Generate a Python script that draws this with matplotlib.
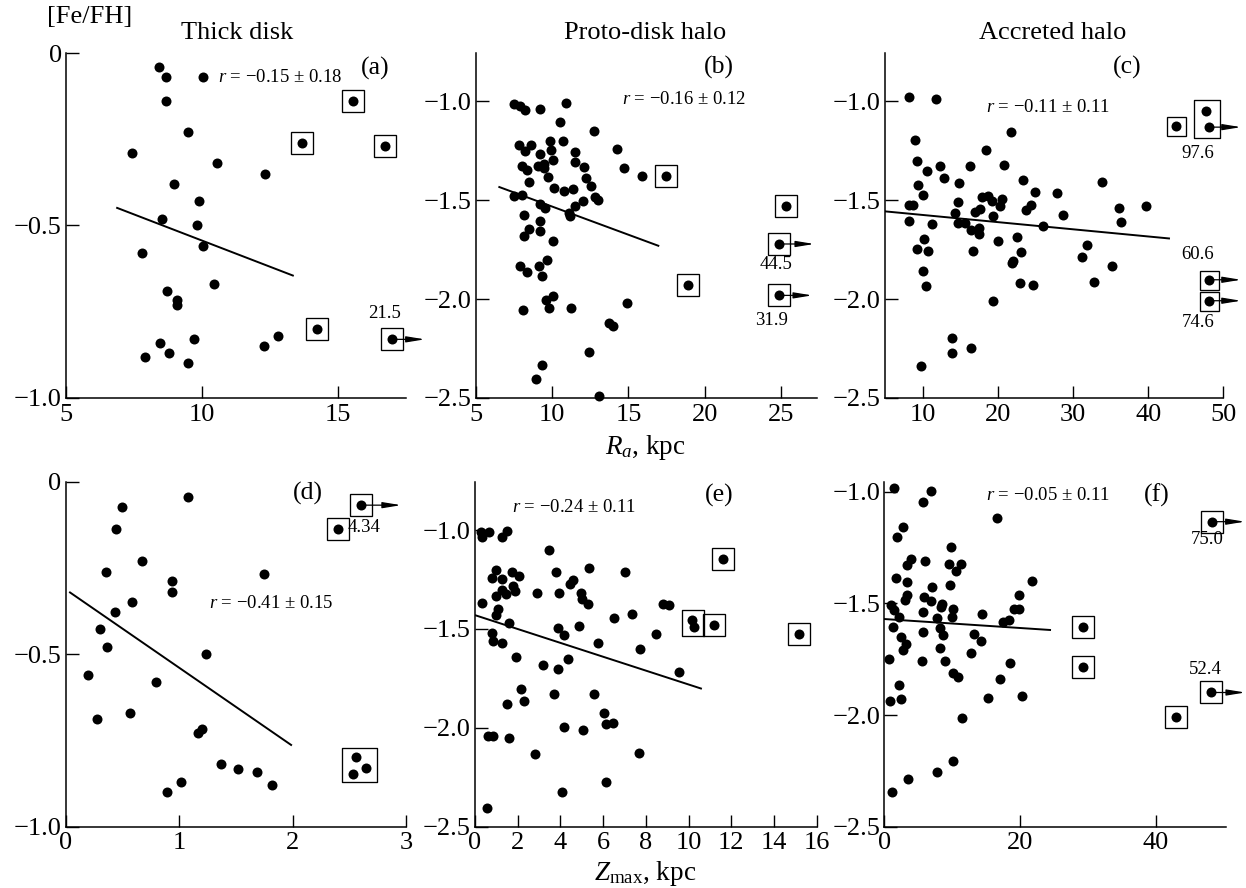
import numpy as np
import matplotlib.pyplot as plt
from matplotlib.path import Path
from matplotlib.ticker import FixedLocator, FuncFormatter

plt.rcParams['font.family'] = ['Liberation Serif', 'DejaVu Serif']
plt.rcParams['mathtext.fontset'] = 'custom'
plt.rcParams['mathtext.rm'] = 'Liberation Serif'
plt.rcParams['mathtext.it'] = 'Liberation Serif:italic'

W, H = 1246, 888

# ---------------- (a) Thick disk, R_a ----------------
xa = [8.41, 8.68, 10.02, 8.68, 9.49, 7.41, 10.56, 12.33, 8.98, 9.89, 8.52, 9.82, 10.05,
      7.79, 10.44, 8.71, 9.07, 9.07, 8.44, 9.72, 7.89, 8.78, 9.50, 12.29, 12.79]
ya = [-0.04, -0.07, -0.07, -0.14, -0.23, -0.29, -0.32, -0.35, -0.38, -0.43, -0.48, -0.50, -0.56,
      -0.58, -0.67, -0.69, -0.715, -0.73, -0.84, -0.83, -0.88, -0.87, -0.90, -0.85, -0.82]
xa_box = [15.55, 13.66, 16.74, 14.21, 16.98]
ya_box = [-0.14, -0.26, -0.27, -0.80, -0.83]
fit_a = ([6.88, 13.34], [-0.449, -0.645])

# ---------------- (b) Proto-disk halo, R_a ----------------
xb = [7.47, 7.89, 8.23, 9.22, 10.92, 10.53, 12.74, 7.84, 8.61, 8.23, 9.85, 10.73, 9.20, 9.92,
      11.51, 14.25, 7.99, 8.34, 9.07, 9.48, 9.44, 10.03, 11.51, 12.06, 14.73, 15.89, 8.50, 9.70,
      12.21, 12.52, 10.14, 10.79, 11.38, 7.47, 8.02, 12.83, 12.98, 9.22, 9.55, 11.51, 12.04,
      11.12, 11.19, 8.17, 9.20, 8.50, 9.22, 8.17, 10.03, 9.63, 7.89, 9.15, 8.34, 9.31, 10.03,
      9.59, 8.06, 9.81, 11.25, 14.88, 13.70, 13.96, 12.43, 9.35, 8.93, 13.09]
yb = [-1.012, -1.025, -1.042, -1.039, -1.008, -1.106, -1.152, -1.219, -1.219, -1.253, -1.202,
      -1.199, -1.265, -1.248, -1.258, -1.241, -1.329, -1.349, -1.325, -1.315, -1.337, -1.298,
      -1.308, -1.332, -1.339, -1.379, -1.406, -1.383, -1.388, -1.426, -1.437, -1.452, -1.443,
      -1.480, -1.472, -1.484, -1.501, -1.519, -1.541, -1.528, -1.502, -1.565, -1.581, -1.576,
      -1.607, -1.646, -1.657, -1.683, -1.708, -1.804, -1.834, -1.834, -1.865, -1.882, -1.986,
      -2.003, -2.053, -2.047, -2.045, -2.020, -2.121, -2.134, -2.269, -2.332, -2.402, -2.492]
xb_box = [17.46, 18.92, 25.33, 24.89, 24.89]
yb_box = [-1.379, -1.927, -1.531, -1.721, -1.981]
fit_b = ([6.53, 16.96], [-1.433, -1.730])

# ---------------- (c) Accreted halo, R_a ----------------
xc = [8.09, 11.64, 8.89, 9.11, 10.53, 12.27, 12.80, 9.24, 10.00, 14.76, 16.27, 18.31, 21.69,
      20.71, 23.33, 24.89, 27.87, 8.09, 8.67, 8.09, 11.11, 14.58, 14.22, 14.58, 15.56, 16.36,
      17.47, 17.47, 16.89, 17.56, 17.87, 18.58, 19.20, 20.53, 20.22, 19.33, 20.00, 23.64, 24.36,
      25.91, 22.53, 10.04, 9.11, 10.67, 16.62, 23.02, 21.78, 22.00, 9.91, 10.40, 22.84, 24.62,
      19.24, 13.87, 13.87, 16.31, 9.69, 28.67, 31.11, 31.78, 32.80, 33.78, 35.11, 36.04, 36.36,
      39.69]
yc = [-0.978, -0.988, -1.197, -1.300, -1.354, -1.325, -1.388, -1.421, -1.474, -1.413, -1.329,
      -1.246, -1.157, -1.324, -1.396, -1.458, -1.464, -1.524, -1.524, -1.607, -1.620, -1.511,
      -1.565, -1.615, -1.615, -1.649, -1.640, -1.669, -1.561, -1.543, -1.485, -1.480, -1.502,
      -1.494, -1.528, -1.581, -1.705, -1.551, -1.524, -1.632, -1.684, -1.696, -1.745, -1.755,
      -1.755, -1.764, -1.817, -1.809, -1.860, -1.935, -1.920, -1.927, -2.011, -2.197, -2.273,
      -2.247, -2.340, -1.576, -1.787, -1.728, -1.915, -1.405, -1.834, -1.539, -1.608, -1.531]
xc_box = [43.69, 48.09, 48.09]
yc_box = [-1.126, -1.902, -2.008]
xc_grp = [47.64, 48.09]
yc_grp = [-1.046, -1.130]
fit_c = ([4.9, 42.76], [-1.556, -1.693])

# ---------------- (d) Thick disk, Z_max ----------------
xd = [1.076, 0.497, 0.444, 0.676, 0.356, 0.934, 0.940, 1.748, 0.582, 0.435, 0.303, 0.361, 1.234,
      0.200, 0.799, 0.279, 0.570, 1.199, 1.166, 1.372, 1.516, 1.684, 1.819, 1.020, 0.893]
yd = [-0.043, -0.072, -0.138, -0.230, -0.261, -0.288, -0.319, -0.268, -0.348, -0.379, -0.428,
      -0.480, -0.500, -0.561, -0.580, -0.689, -0.671, -0.718, -0.729, -0.819, -0.832, -0.840,
      -0.880, -0.871, -0.900]
xd_box = [2.604, 2.398]
yd_box = [-0.068, -0.137]
xd_grp = [2.562, 2.645, 2.533]
yd_grp = [-0.798, -0.829, -0.846]
fit_d = ([0.038, 1.987], [-0.321, -0.763])

# ---------------- (e) Proto-disk halo, Z_max ----------------
xe = [0.28, 0.31, 0.66, 1.28, 1.51, 3.47, 5.35, 3.79, 7.02, 0.98, 0.78, 1.28, 1.72, 2.08, 1.80,
      1.87, 1.28, 1.45, 0.97, 2.90, 3.93, 4.57, 4.46, 4.96, 5.03, 5.28, 0.31, 1.06, 0.97, 1.59,
      0.78, 0.86, 1.28, 3.87, 4.15, 4.89, 6.53, 7.37, 5.78, 7.73, 1.92, 3.17, 3.87, 4.37, 2.14,
      2.28, 1.51, 3.70, 5.56, 6.03, 6.13, 6.48, 4.17, 5.07, 0.62, 0.86, 1.59, 2.83, 7.70, 8.46,
      8.82, 9.10, 9.57, 6.13, 4.06, 0.55]
ye = [-1.008, -1.034, -1.008, -1.034, -1.005, -1.101, -1.194, -1.211, -1.214, -1.202, -1.241,
      -1.245, -1.211, -1.231, -1.282, -1.307, -1.304, -1.325, -1.334, -1.320, -1.320, -1.253,
      -1.270, -1.320, -1.346, -1.374, -1.371, -1.401, -1.427, -1.472, -1.519, -1.560, -1.570,
      -1.497, -1.531, -1.486, -1.444, -1.422, -1.573, -1.600, -1.641, -1.683, -1.700, -1.654,
      -1.801, -1.862, -1.877, -1.830, -1.830, -1.924, -1.981, -1.975, -1.995, -2.012, -2.042,
      -2.042, -2.051, -2.130, -2.125, -1.526, -1.374, -1.379, -1.717, -2.273, -2.327, -2.403]
xe_box = [11.19, 11.63, 15.19]
ye_box = [-1.481, -1.148, -1.523]
xe_grp = [10.15, 10.26]
ye_grp = [-1.452, -1.492]
fit_e = ([0.0, 10.58], [-1.430, -1.801])

# ---------------- (f) Accreted halo, Z_max ----------------
xf = [1.43, 6.83, 5.65, 16.66, 2.80, 1.92, 9.78, 3.88, 3.29, 6.00, 9.58, 11.25, 10.52, 1.67,
      3.29, 7.08, 9.68, 21.72, 3.39, 3.00, 5.85, 6.83, 8.30, 8.55, 10.07, 9.93, 19.85, 19.85,
      19.12, 1.03, 1.43, 2.16, 5.75, 7.71, 14.45, 17.54, 18.38, 1.33, 8.21, 8.70, 2.51, 3.14,
      2.80, 5.75, 13.22, 14.30, 8.21, 12.83, 0.74, 5.50, 8.94, 18.53, 10.17, 10.86, 17.05, 2.16,
      0.84, 2.51, 15.28, 20.34, 11.50, 10.17, 7.71, 3.54, 1.08]
yf = [-0.981, -0.996, -1.045, -1.119, -1.160, -1.204, -1.249, -1.301, -1.328, -1.309, -1.325,
      -1.325, -1.355, -1.388, -1.406, -1.425, -1.419, -1.399, -1.463, -1.485, -1.473, -1.488,
      -1.515, -1.503, -1.524, -1.560, -1.463, -1.527, -1.527, -1.507, -1.530, -1.560, -1.537,
      -1.564, -1.548, -1.585, -1.575, -1.604, -1.612, -1.642, -1.649, -1.682, -1.709, -1.630,
      -1.637, -1.667, -1.699, -1.724, -1.749, -1.758, -1.757, -1.766, -1.813, -1.828, -1.837,
      -1.866, -1.936, -1.927, -1.925, -1.915, -2.015, -2.206, -2.254, -2.287, -2.343]
xf_box = [29.24, 29.24, 42.95, 48.26, 48.16]
yf_box = [-1.607, -1.787, -2.007, -1.134, -1.899]
fit_f = ([0.0, 24.42], [-1.570, -1.619])

PT = 0.72  # points per pixel at dpi 100
DOT = 7.2


def px_rect(l, t, r, b):
    return [l / W, 1 - b / H, (r - l) / W, (b - t) / H]


def rect_marker(w, h):
    verts = [(-w / 2, -h / 2), (w / 2, -h / 2), (w / 2, h / 2), (-w / 2, h / 2), (-w / 2, -h / 2)]
    return Path(verts, [Path.MOVETO, Path.LINETO, Path.LINETO, Path.LINETO, Path.CLOSEPOLY])


def yfmt(v, pos):
    if abs(v) < 1e-9:
        return '0'
    return ('%.1f' % v).replace('-', '\u2212')


def xfmt(v, pos):
    return '%g' % v


def panel(rect, xlim, ylim, xticks, yticks, x, y, bx, by, fit, gx=None, gy=None, gsize=None,
          box=22):
    ax = fig.add_axes(px_rect(*rect))
    ax.plot(fit[0], fit[1], color='k', lw=1.4, zorder=2)
    ax.plot(x, y, 'o', color='k', ms=DOT, mew=0, clip_on=False, zorder=3)
    ax.plot(bx, by, 'o', color='k', ms=DOT, mew=0, clip_on=False, zorder=3)
    ax.plot(bx, by, 's', mfc='none', mec='k', ms=box * PT, mew=0.95, clip_on=False, zorder=3)
    if gx is not None:
        ax.plot(gx, gy, 'o', color='k', ms=DOT, mew=0, clip_on=False, zorder=3)
        cx = (min(gx) + max(gx)) / 2
        cy = (min(gy) + max(gy)) / 2
        w, h = gsize
        ax.plot([cx], [cy], marker=rect_marker(w, h), mfc='none', mec='k',
                ms=max(w, h) * PT, mew=0.95, clip_on=False, zorder=3)
    ax.set_xlim(*xlim)
    ax.set_ylim(*ylim)
    ax.xaxis.set_major_locator(FixedLocator(xticks))
    ax.yaxis.set_major_locator(FixedLocator(yticks))
    ax.xaxis.set_major_formatter(FuncFormatter(xfmt))
    ax.yaxis.set_major_formatter(FuncFormatter(yfmt))
    ax.tick_params(direction='in', length=9, width=1.0, labelsize=19, pad=4)
    ax.tick_params(axis='y', pad=3)
    for s in ['top', 'right']:
        ax.spines[s].set_visible(False)
    for s in ['left', 'bottom']:
        ax.spines[s].set_linewidth(1.1)
    return ax


def arrow(ax, x, y, length, label=None, off=(0, 0), ha='center'):
    ax.annotate('', xy=(x, y), xytext=(length * PT, 0), textcoords='offset points',
                arrowprops=dict(arrowstyle='<|-,head_length=1.1,head_width=0.18', color='k',
                                lw=0.9, shrinkA=0, shrinkB=0, mutation_scale=10),
                annotation_clip=False)
    if label:
        ax.annotate(label, xy=(x, y), xytext=(off[0] * PT, -off[1] * PT), textcoords='offset points',
                    ha=ha, va='center', fontsize=13.5, annotation_clip=False)


fig = plt.figure(figsize=(W / 100, H / 100), dpi=100)

yt1 = [0, -0.5, -1.0]
yt2 = [-1.0, -1.5, -2.0, -2.5]

ax_a = panel((66, 53, 406, 398), (5, 17.5), (-1.0, 0), [5, 10, 15], yt1,
             xa, ya, xa_box, ya_box, fit_a)
arrow(ax_a, xa_box[4], ya_box[4], 33, '21.5', (-7, -26))

ax_b = panel((476, 53, 816.7, 398), (5, 27.35), (-2.5, -0.755), [5, 10, 15, 20, 25], yt2,
             xb, yb, xb_box, yb_box, fit_b)
arrow(ax_b, xb_box[3], yb_box[3], 35, '44.5', (-3, 21))
arrow(ax_b, xb_box[4], yb_box[4], 33, '31.9', (-8, 25))

ax_c = panel((885, 53, 1223.3, 398), (4.9, 50), (-2.5, -0.755), [10, 20, 30, 40, 50], yt2,
             xc, yc, xc_box, yc_box, fit_c, xc_grp, yc_grp, (26, 38), box=19)
arrow(ax_c, xc_grp[1], yc_grp[1], 32, '97.6', (-11, 26))
arrow(ax_c, xc_box[1], yc_box[1], 32, '60.6', (-11, -25))
arrow(ax_c, xc_box[2], yc_box[2], 32, '74.6', (-11, 22))

ax_d = panel((65.7, 481.7, 406, 826.7), (0, 3), (-1.0, 0), [0, 1, 2, 3], yt1,
             xd, yd, xd_box, yd_box, fit_d, xd_grp, yd_grp, (35, 34))
arrow(ax_d, xd_box[0], yd_box[0], 40, '4.34', (-13, 22), ha='left')

ax_e = panel((475, 481.7, 816.7, 826.7), (0, 16), (-2.5, -0.755), list(range(0, 17, 2)), yt2,
             xe, ye, xe_box, ye_box, fit_e, xe_grp, ye_grp, (23, 27))

ax_f = panel((884.3, 481.7, 1225.7, 826.7), (0, 50.3), (-2.5, -0.955), [0, 20, 40], yt2,
             xf, yf, xf_box, yf_box, fit_f)
arrow(ax_f, xf_box[3], yf_box[3], 33, '75.0', (-5, 18))
arrow(ax_f, xf_box[4], yf_box[4], 34, '52.4', (-6, -23))


def ftext(px, py, s, size, **kw):
    fig.text(px / W, 1 - py / H, s, fontsize=size, ha=kw.pop('ha', 'center'),
             va=kw.pop('va', 'center'), **kw)


ftext(237, 33, 'Thick disk', 19)
ftext(645, 33, 'Proto-disk halo', 19)
ftext(1053, 33, 'Accreted halo', 19)
ftext(90, 17, '[Fe/FH]', 19)

for (px, py), lab in zip([(375, 68), (719, 67), (1127, 67), (308, 493), (719, 495), (1157, 495)],
                         ['(a)', '(b)', '(c)', '(d)', '(e)', '(f)']):
    ftext(px, py, lab, 18.5)

for (px, py), s in zip([(280, 77), (684, 100), (1048, 107), (271, 603), (574, 507), (1048, 495)],
                       ['0.15 \u00b1 0.18', '0.16 \u00b1 0.12', '0.11 \u00b1 0.11',
                        '0.41 \u00b1 0.15', '0.24 \u00b1 0.11', '0.05 \u00b1 0.11']):
    ftext(px, py, '$r$ = \u2212' + s, 13.5)

ftext(645, 448, '$R_a$, kpc', 19.5)
ftext(645, 873, '$Z_{\\rm max}$, kpc', 19.5)

fig.savefig('out.png', dpi=100)
